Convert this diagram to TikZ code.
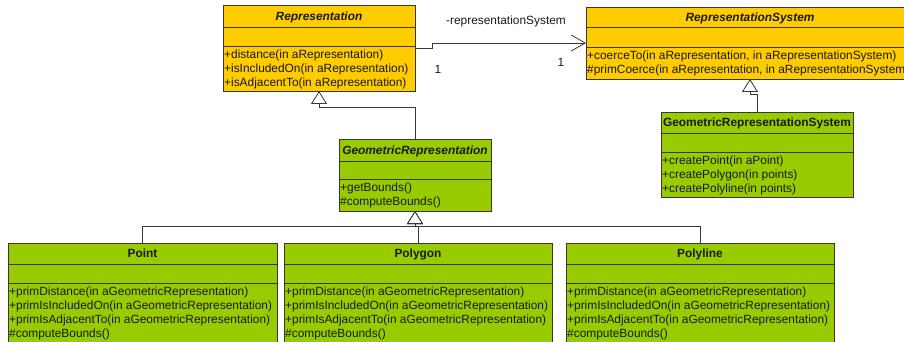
\documentclass[tikz,border=0pt]{standalone}
\usepackage{fontspec}
\setmainfont{Liberation Sans}
\usetikzlibrary{arrows.meta,calc}
\definecolor{umlyellow}{RGB}{255,204,0}
\definecolor{umlgreen}{RGB}{153,204,0}
\definecolor{umlline}{RGB}{55,55,55}
\definecolor{umltext}{RGB}{25,25,25}
\tikzset{
  classbox/.style={draw=umlline, line width=0.8pt, inner sep=0pt, outer sep=0pt, anchor=north west},
  divline/.style={draw=umlline, line width=0.8pt},
  abstitle/.style={font=\fontsize{11.9}{14}\selectfont\bfseries\itshape, text=umltext, inner sep=0pt, anchor=base},
  conctitle/.style={font=\fontsize{11.9}{14}\selectfont\bfseries, text=umltext, inner sep=0pt, anchor=base},
  ops/.style={font=\fontsize{11.9}{14}\selectfont, align=left, anchor=north west, inner sep=0pt, text=umltext},
  rolelabel/.style={font=\fontsize{11.9}{14}\selectfont, text=umltext, inner sep=0pt},
  gen/.style={draw=umlline, line width=0.8pt, -{Triangle[open, length=13pt, width=16pt, fill=white]}},
  assoc/.style={draw=umlline, line width=0.8pt, -{Straight Barb[length=14pt, width=16pt]}}
}
% horizontal compartment separators of a class box
\newcommand{\compartments}[3]{%
  \draw[divline] ($(#1.north west)+(0,#2)$) -- ($(#1.north east)+(0,#2)$);
  \draw[divline] ($(#1.north west)+(0,#3)$) -- ($(#1.north east)+(0,#3)$);
}
\begin{document}
\begin{tikzpicture}[x=1pt, y=-1pt]
\useasboundingbox (0,0) rectangle (904,342);
\clip (0,0) rectangle (904,342);

% Representation
\node[classbox, fill=umlyellow, minimum width=192pt, minimum height=86pt] (rep) at (223,5) {};
\compartments{rep}{22}{41}
\node[abstitle] (reptitle) at (319,20.3) {Representation};
\node[ops] (repops) at (224,48.6) {\strut+distance(in aRepresentation)\\+isIncludedOn(in aRepresentation)\\+isAdjacentTo(in aRepresentation)};

% RepresentationSystem
\node[classbox, fill=umlyellow, minimum width=328pt, minimum height=72pt] (rsys) at (586,7) {};
\compartments{rsys}{20}{40}
\node[abstitle] (rsystitle) at (750,21.3) {RepresentationSystem};
\node[ops] (rsysops) at (587,49.6) {\strut+coerceTo(in aRepresentation, in aRepresentationSystem)\\\#primCoerce(in aRepresentation, in aRepresentationSystem)};

% GeometricRepresentation
\node[classbox, fill=umlgreen, minimum width=152pt, minimum height=72pt] (geo) at (339,139) {};
\compartments{geo}{22}{40}
\node[abstitle] (geotitle) at (415,154.3) {GeometricRepresentation};
\node[ops] (geoops) at (340,181.6) {\strut+getBounds()\\\#computeBounds()};

% GeometricRepresentationSystem
\node[classbox, fill=umlgreen, minimum width=192pt, minimum height=85pt] (grs) at (661,112) {};
\compartments{grs}{21}{40}
\node[conctitle] (grstitle) at (757,126.3) {GeometricRepresentationSystem};
\node[ops] (grsops) at (662,154.6) {\strut+createPoint(in aPoint)\\+createPolygon(in points)\\+createPolyline(in points)};

% Point
\node[classbox, fill=umlgreen, minimum width=269pt, minimum height=120pt] (point) at (8,243) {};
\compartments{point}{21}{40}
\node[conctitle] (pointtitle) at (142.5,257.3) {Point};
\node[ops] (pointops) at (9,285.6) {\strut+primDistance(in aGeometricRepresentation)\\+primIsIncludedOn(in aGeometricRepresentation)\\+primIsAdjacentTo(in aGeometricRepresentation)\\\#computeBounds()};

% Polygon
\node[classbox, fill=umlgreen, minimum width=268pt, minimum height=120pt] (polygon) at (284,243) {};
\compartments{polygon}{21}{40}
\node[conctitle] (polygontitle) at (418,257.3) {Polygon};
\node[ops] (polygonops) at (285,285.6) {\strut+primDistance(in aGeometricRepresentation)\\+primIsIncludedOn(in aGeometricRepresentation)\\+primIsAdjacentTo(in aGeometricRepresentation)\\\#computeBounds()};

% Polyline
\node[classbox, fill=umlgreen, minimum width=268pt, minimum height=120pt] (polyline) at (566,243) {};
\compartments{polyline}{21}{40}
\node[conctitle] (polylinetitle) at (700,257.3) {Polyline};
\node[ops] (polylineops) at (567,285.6) {\strut+primDistance(in aGeometricRepresentation)\\+primIsIncludedOn(in aGeometricRepresentation)\\+primIsAdjacentTo(in aGeometricRepresentation)\\\#computeBounds()};

% association Representation -> RepresentationSystem
\draw[assoc] (rep.east) -- ++(17,0) |- (rsys.west);
\node[rolelabel] (rolename) at (506,21) {-representationSystem};
\node[rolelabel] (multsrc) at (438,69) {1};
\node[rolelabel] (multdst) at (561,62) {1};

% generalizations
\draw[gen] (geo.north) |- ([yshift=-16pt]rep.south) -- (rep.south);
\draw[gen] (grs.north) |- ([yshift=-15pt]rsys.south) -- (rsys.south);
\draw[gen] (point.north) |- ([yshift=-15pt]geo.south) -- (geo.south);
\draw[gen] (polygon.north) |- ([yshift=-15pt]geo.south) -- (geo.south);
\draw[gen] (polyline.north) |- ([yshift=-15pt]geo.south) -- (geo.south);
\end{tikzpicture}
\end{document}
